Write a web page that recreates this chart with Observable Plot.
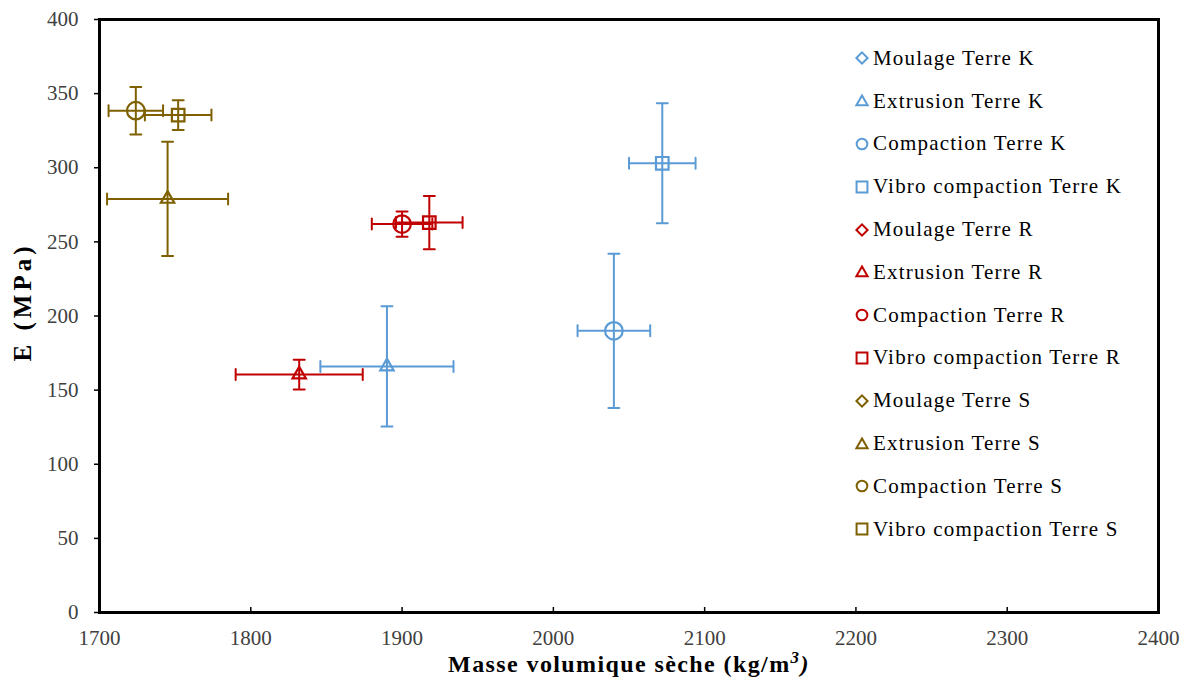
<!DOCTYPE html>
<html><head><meta charset="utf-8">
<script src="https://cdn.jsdelivr.net/npm/d3@7"></script>
<script src="https://cdn.jsdelivr.net/npm/@observablehq/plot@0.6"></script>
<style>
body{margin:0;background:#fff;}
#wrap{position:relative;width:1183px;height:678px;font-family:"Liberation Serif",serif;}
#legend{position:absolute;left:853px;top:37px;}
.item{display:flex;align-items:center;height:42.8px;font-size:21px;letter-spacing:1.2px;color:#000;white-space:nowrap;}
.item svg{margin-right:2px;}
</style></head><body><div id="wrap"></div>
<script>
// ---- data ----
const methods = ["Moulage", "Extrusion", "Compaction", "Vibro compaction"];
const soils = ["K", "R", "S"];
const soilColors = ["#5B9BD5", "#C00000", "#7F6000"];
const methodSymbols = ["diamond2", "triangle2", "circle", "square2"];

const pointSoil   = ["K", "K", "K", "R", "R", "R", "S", "S", "S"];
const pointMethod = ["Extrusion", "Compaction", "Vibro compaction",
                     "Extrusion", "Compaction", "Vibro compaction",
                     "Extrusion", "Compaction", "Vibro compaction"];
const density     = [1890, 2040, 2072, 1832, 1900, 1918, 1745, 1724, 1752];
const densityErr  = [44, 24, 22, 42, 20, 22, 40, 18, 22];
const modulus     = [166, 190, 303, 160.5, 262, 263, 279, 338.5, 335.5];
const modulusErr  = [40.5, 52, 40.5, 10, 8.5, 18, 38.5, 16, 10];

const xTicks = [1700, 1800, 1900, 2000, 2100, 2200, 2300, 2400];
const yTicks = [0, 50, 100, 150, 200, 250, 300, 350, 400];

// ---- build ----
const points = density.map((d, i) => ({
  soil: pointSoil[i], method: pointMethod[i],
  x: d, ex: densityErr[i], y: modulus[i], ey: modulusErr[i]
}));
const capShape = {draw(ctx, l) { ctx.moveTo(0, 0); ctx.lineTo(0, -l); }};
const cap = 11;

const dotMarks = methods.map((m, k) => Plot.dot(points.filter(p => p.method === m), {
  x: "x", y: "y", stroke: "soil", fill: "none", strokeWidth: 2.2,
  symbol: methodSymbols[k], r: [7, 6.4, 8.8, 8][k]
}));

const chart = Plot.plot({
  width: 1183, height: 678,
  marginLeft: 99, marginRight: 25, marginTop: 19, marginBottom: 66,
  style: {fontFamily: "'Liberation Serif', serif", fontSize: "21px", color: "#404040", background: "white"},
  x: {domain: [1700, 2400], ticks: xTicks, tickFormat: d => String(d), label: null},
  y: {domain: [0, 400], ticks: yTicks, tickFormat: d => String(d), label: null},
  color: {domain: soils, range: soilColors},
  marks: [
    Plot.axisX({ticks: xTicks, tickFormat: d => String(d), tickSize: -5, tickPadding: 23, stroke: "#000", strokeWidth: 1.5, label: null}),
    Plot.axisY({ticks: yTicks, tickFormat: d => String(d), tickSize: 5, tickPadding: 16, stroke: "#000", strokeWidth: 1.5, label: null}),
    Plot.ruleY(points, {y: "y", x1: d => d.x - d.ex, x2: d => d.x + d.ex, stroke: "soil", strokeWidth: 2}),
    Plot.ruleX(points, {x: "x", y1: d => d.y - d.ey, y2: d => d.y + d.ey, stroke: "soil", strokeWidth: 2}),
    Plot.vector(points, {x: d => d.x - d.ex, y: "y", length: cap, rotate: 0, anchor: "middle", shape: capShape, stroke: "soil", strokeWidth: 2}),
    Plot.vector(points, {x: d => d.x + d.ex, y: "y", length: cap, rotate: 0, anchor: "middle", shape: capShape, stroke: "soil", strokeWidth: 2}),
    Plot.vector(points, {x: "x", y: d => d.y - d.ey, length: cap, rotate: 90, anchor: "middle", shape: capShape, stroke: "soil", strokeWidth: 2}),
    Plot.vector(points, {x: "x", y: d => d.y + d.ey, length: cap, rotate: 90, anchor: "middle", shape: capShape, stroke: "soil", strokeWidth: 2}),
    ...dotMarks,
    Plot.frame({stroke: "#000", strokeWidth: 3})
  ]
});

const wrap = document.getElementById("wrap");
wrap.appendChild(chart);

// axis titles
const svg = d3.select(chart);
const xt = svg.append("text")
  .attr("x", 629).attr("y", 672)
  .attr("text-anchor", "middle")
  .attr("fill", "#000").attr("font-weight", "bold").attr("font-size", 24)
  .attr("letter-spacing", 1.4)
  .attr("font-family", "'Liberation Serif', serif");
xt.append("tspan").text("Masse volumique sèche (kg/m");
xt.append("tspan").attr("font-style", "italic").attr("font-size", 17).attr("dy", -9).text("3");
xt.append("tspan").attr("font-style", "italic").attr("dy", 9).text(")");

svg.append("text")
  .attr("transform", "translate(31,302) rotate(-90)")
  .attr("text-anchor", "middle")
  .attr("fill", "#000").attr("font-weight", "bold").attr("font-size", 25)
  .attr("letter-spacing", 4)
  .attr("font-family", "'Liberation Serif', serif")
  .text("E (MPa)");

// legend
const legend = document.createElement("div");
legend.id = "legend";
soils.forEach((s, si) => {
  methods.forEach((m, mi) => {
    const item = document.createElement("div");
    item.className = "item";
    const ns = "http://www.w3.org/2000/svg";
    const sv = document.createElementNS(ns, "svg");
    sv.setAttribute("width", 18); sv.setAttribute("height", 18);
    const path = document.createElementNS(ns, "path");
    const symType = [d3.symbolDiamond2, d3.symbolTriangle2, d3.symbolCircle, d3.symbolSquare2][mi];
    const size = [80, 90, 90, 150][mi];
    path.setAttribute("d", d3.symbol(symType, size)());
    path.setAttribute("transform", "translate(9," + (mi === 1 ? 10 : 9) + ")");
    path.setAttribute("fill", "none");
    path.setAttribute("stroke", soilColors[si]);
    path.setAttribute("stroke-width", 2);
    sv.appendChild(path);
    item.appendChild(sv);
    const t = document.createElement("span");
    t.textContent = m + " Terre " + s;
    item.appendChild(t);
    legend.appendChild(item);
  });
});
wrap.appendChild(legend);
</script></body></html>
